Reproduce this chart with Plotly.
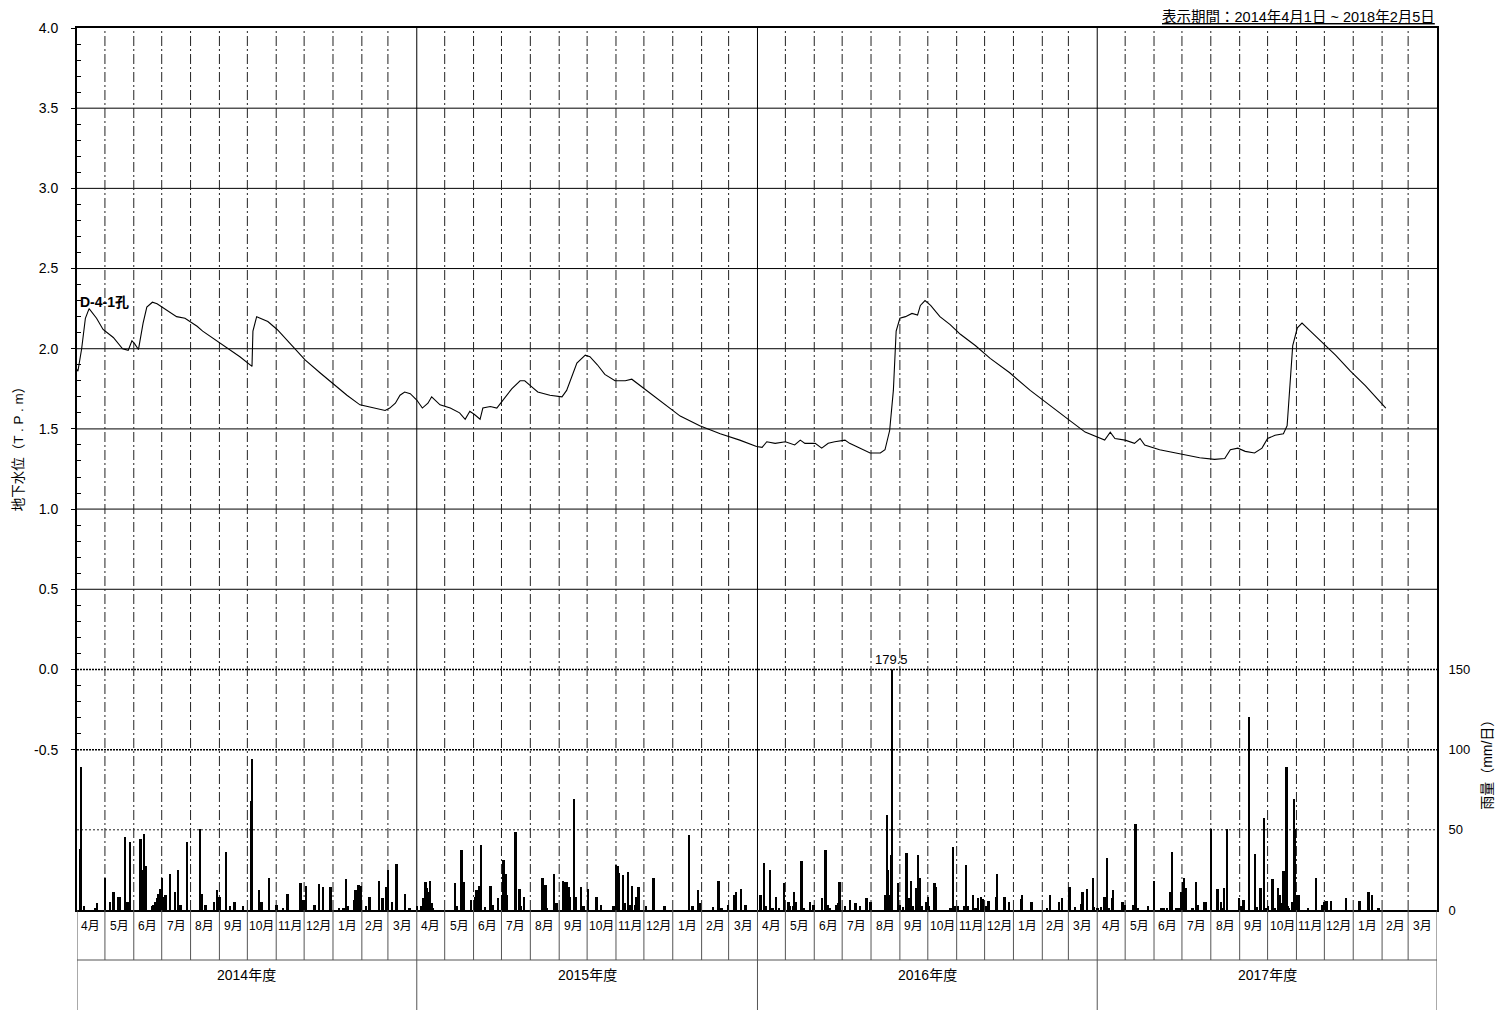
import numpy as np
import pandas as pd
import plotly.graph_objects as go

# ---------------------------------------------------------------------------
# Data
# ---------------------------------------------------------------------------
OBS_START = "2014-04-01"
FISCAL_YEARS = [2014, 2015, 2016, 2017]
FY_LABELS = ["2014年度", "2015年度", "2016年度", "2017年度"]
MONTH_LABELS = ["4月", "5月", "6月", "7月", "8月", "9月", "10月", "11月", "12月", "1月", "2月", "3月"]
WELL_NAME = "D-4-1孔"
PERIOD_TEXT = "表示期間：2014年4月1日 ~ 2018年2月5日"
LEFT_TITLE = "地下水位（T . P . m）"
RIGHT_TITLE = "雨量（mm/日）"

# groundwater level (T.P.m), day = elapsed days since 2014-04-01
level_day = [0, 1, 5, 9, 13, 21, 28, 39, 49, 55, 59, 62, 66, 71, 75, 81, 86, 91, 97, 102,
             107, 116, 121, 129, 135, 150, 161, 175, 188, 189, 193, 197, 205, 215, 229, 245,
             261, 275, 290, 304, 320, 331, 336, 342, 347, 352, 358, 365, 371, 377, 381, 390,
             401, 411, 417, 422, 427, 433, 436, 444, 451, 460, 467, 476, 481, 487, 495, 508,
             521, 526, 532, 537, 546, 551, 559, 567, 578, 589, 596, 605, 616, 632, 648, 669,
             691, 712, 730, 736, 741, 750, 761, 771, 777, 782, 793, 800, 807, 814, 825, 830,
             841, 852, 863, 868, 873, 877, 880, 884, 890, 897, 903, 906, 911, 917, 927, 938,
             949, 965, 981, 1002, 1024, 1045, 1067, 1083, 1096, 1104, 1110, 1115, 1126, 1136,
             1142, 1147, 1163, 1179, 1196, 1206, 1222, 1233, 1239, 1247, 1255, 1265, 1273,
             1279, 1287, 1296, 1300, 1303, 1306, 1311, 1316, 1325, 1336, 1352, 1368, 1384, 1406]
level_m = [1.87, 1.86, 2.00, 2.19, 2.25, 2.19, 2.12, 2.07, 2.00, 1.99, 2.05, 2.03, 1.995, 2.16,
           2.26, 2.29, 2.28, 2.26, 2.24, 2.22, 2.20, 2.19, 2.17, 2.14, 2.11, 2.05, 2.01, 1.95,
           1.89, 2.11, 2.20, 2.19, 2.17, 2.12, 2.03, 1.93, 1.85, 1.78, 1.71, 1.65, 1.63, 1.615,
           1.63, 1.66, 1.71, 1.73, 1.72, 1.68, 1.63, 1.66, 1.70, 1.65, 1.63, 1.60, 1.56, 1.61,
           1.59, 1.56, 1.63, 1.64, 1.63, 1.70, 1.75, 1.80, 1.80, 1.77, 1.73, 1.71, 1.70, 1.74,
           1.83, 1.91, 1.96, 1.95, 1.90, 1.84, 1.80, 1.80, 1.81, 1.77, 1.72, 1.65, 1.58, 1.52,
           1.47, 1.43, 1.39, 1.385, 1.42, 1.41, 1.42, 1.40, 1.43, 1.41, 1.41, 1.38, 1.41, 1.42,
           1.43, 1.41, 1.38, 1.35, 1.35, 1.37, 1.49, 1.74, 2.11, 2.19, 2.20, 2.22, 2.21, 2.27,
           2.30, 2.27, 2.20, 2.15, 2.09, 2.02, 1.94, 1.85, 1.74, 1.65, 1.55, 1.48, 1.45, 1.43,
           1.48, 1.44, 1.43, 1.41, 1.44, 1.40, 1.37, 1.35, 1.33, 1.32, 1.31, 1.315, 1.37, 1.38,
           1.36, 1.35, 1.38, 1.44, 1.46, 1.47, 1.52, 1.80, 2.02, 2.13, 2.16, 2.11, 2.05, 1.96,
           1.86, 1.77, 1.63]

# daily rainfall (mm/day), day = days since 1 April of each fiscal year
rain_fy2014_day = [3, 4, 7, 19, 21, 30, 35, 39, 44, 46, 51, 54, 57, 68, 69, 71, 72, 74, 80, 82,
                   84, 86, 87, 89, 91, 93, 95, 100, 105, 108, 111, 118, 132, 134, 138, 147, 150,
                   153, 160, 164, 169, 178, 187, 188, 195, 198, 206, 214, 221, 226, 240, 243,
                   246, 255, 260, 264, 272, 281, 286, 289, 291, 297, 299, 302, 305, 310, 314,
                   324, 328, 332, 334, 338, 343, 352, 357]
rain_fy2014_mm = [37.5, 89, 2, 1, 4, 20, 5, 11, 8, 8, 45, 5, 42, 44, 25, 6, 47, 27, 2, 3,
                  5, 7, 10, 13, 20, 8, 9, 22, 11, 25, 3, 42, 50, 10, 3, 5, 12,
                  8, 36, 2, 5, 2.5, 68, 94, 12.5, 4.6, 20, 3, 0.5, 9.6, 16.7, 6,
                  14.6, 3, 16, 14, 14, 1, 1, 19, 2, 6, 12.5, 15.6, 14.6, 2.5, 8,
                  18, 7, 14, 25, 5, 28.5, 10, 1]

rain_fy2015_day = [0, 4, 7, 9, 11, 12, 14, 16, 17, 41, 43, 48, 50, 58, 62, 64, 67, 69, 73, 79,
                   81, 87, 92, 93, 95, 97, 106, 110, 112, 115, 135, 138, 140, 147, 150, 157,
                   159, 161, 163, 164, 169, 171, 176, 179, 184, 193, 198, 211, 214, 216, 217,
                   221, 223, 227, 229, 231, 234, 236, 238, 246, 254, 266, 292, 296, 302, 304,
                   318, 324, 327, 334, 341, 343, 348, 353]
rain_fy2015_mm = [2, 2, 7, 17, 13.5, 11, 18, 4, 1, 16.7, 2, 37, 17, 6, 8, 12.5, 15, 40, 1.7, 15,
                  3, 7, 9, 31, 22, 9, 48.5, 13, 2.5, 8, 20, 15.6, 1, 22, 4, 18,
                  17, 17, 14, 8, 69, 8, 14, 2, 13, 8, 3, 2.5, 28, 27, 23,
                  21.7, 4, 23.5, 3, 15, 3, 8, 14, 2, 20, 2, 46.7, 2, 12.5, 4,
                  1.5, 18, 0.5, 3, 9.4, 11, 13, 3]

rain_fy2016_day = [3, 7, 9, 13, 16, 20, 23, 28, 33, 35, 38, 39, 41, 47, 50, 56, 60, 69, 73, 75,
                   78, 84, 86, 88, 94, 99, 105, 110, 117, 121, 137, 139, 140, 141, 143, 144,
                   151, 153, 156, 160, 162, 165, 167, 170, 172, 174, 176, 181, 183, 184, 190,
                   191, 207, 210, 212, 215, 222, 224, 226, 231, 234, 237, 240, 242, 245, 248,
                   256, 257, 265, 270, 283, 284, 294, 311, 314, 324, 327, 335, 341, 348, 349,
                   354, 360, 361]
rain_fy2016_mm = [9, 29, 2.5, 25, 1, 8, 1, 16.7, 5, 2, 2, 11, 5, 30, 1, 5, 3, 7.5, 37, 3,
                  1, 3, 4, 17, 2, 6, 4, 2, 7.5, 5, 9.4, 59, 25, 9.4, 34, 179.5,
                  16.7, 3, 1.7, 35, 7.5, 18, 2, 13.5, 34, 20, 2.5, 5, 7.7, 2, 16.7,
                  14, 0.5, 39, 2, 2, 2, 28, 2, 9, 1, 7.5, 8, 6.7, 2.5, 5.6,
                  7.7, 22, 8, 5, 6.7, 9, 5, 1, 9.4, 5, 7.5, 13.8, 1.7, 3.3, 11,
                  13, 20, 1.7]

rain_fy2017_day = [0, 4, 7, 8, 10, 12, 16, 17, 27, 29, 38, 41, 43, 54, 61, 68, 71, 75, 78, 80,
                   85, 87, 90, 92, 93, 95, 102, 106, 108, 115, 116, 122, 129, 133, 135, 136,
                   139, 152, 154, 157, 163, 169, 171, 175, 176, 179, 181, 183, 188, 191, 194,
                   196, 197, 200, 201, 203, 205, 206, 209, 211, 212, 214, 216, 226, 235, 241,
                   244, 246, 251, 267, 281, 282, 291, 295, 302]
rain_fy2017_mm = [0.4, 1.7, 8, 8, 32, 0.5, 7.3, 12, 4.8, 3, 3, 53.5, 0.5, 2, 18, 0.5, 0.5, 0.5,
                  11, 36, 0.8, 0.8, 11, 17, 20, 13.5, 0.5, 17, 3, 5, 4.6, 50, 13, 5, 1, 13.5,
                  50.4, 7, 2, 5.8, 120, 34.6, 1.7, 13.5, 0.5, 57, 1, 2, 19, 1, 13.3,
                  9.4, 4, 24, 11, 89, 2, 1, 4.8, 69, 50, 9, 8.8, 0.4, 20, 3,
                  4.6, 5.2, 5.6, 7, 5.6, 5.2, 11, 8.8, 0.5]

PEAK_RAIN_LABEL = "179.5"

# ---------------------------------------------------------------------------
# Build series
# ---------------------------------------------------------------------------
start = pd.Timestamp(OBS_START)
level_dates = start + pd.to_timedelta(level_day, unit="D")

rain_tables = [
    (rain_fy2014_day, rain_fy2014_mm),
    (rain_fy2015_day, rain_fy2015_mm),
    (rain_fy2016_day, rain_fy2016_mm),
    (rain_fy2017_day, rain_fy2017_mm),
]
rain_dates, rain_vals = [], []
for fy, (days, mm) in zip(FISCAL_YEARS, rain_tables):
    fy_start = pd.Timestamp(f"{fy}-04-01")
    rain_dates.extend(fy_start + pd.to_timedelta(days, unit="D") + pd.Timedelta(hours=12))
    rain_vals.extend(mm)

x_start = pd.Timestamp(f"{FISCAL_YEARS[0]}-04-01")
x_end = pd.Timestamp(f"{FISCAL_YEARS[-1] + 1}-04-01")
month_starts = pd.date_range(x_start, x_end, freq="MS")
fy_starts = [pd.Timestamp(f"{fy}-04-01") for fy in FISCAL_YEARS] + [x_end]

FONT = "Liberation Sans, Arial, Noto Sans CJK JP, sans-serif"

# plot area geometry (px)
PLOT_H = 882
LEFT_RANGE = [-1.5, 4.0]
RAIN_TOP = 150
rain_domain_top = (RAIN_TOP / 100 * 160.4) / PLOT_H
row1 = -50 / PLOT_H
row2 = -100 / PLOT_H

fig = go.Figure()

fig.add_trace(go.Bar(
    x=rain_dates, y=rain_vals, xaxis="x", yaxis="y2",
    width=86400000 * 2.0,
    marker=dict(color="black", line=dict(width=0)),
    showlegend=False, hoverinfo="x+y",
))

fig.add_trace(go.Scatter(
    x=level_dates, y=level_m, xaxis="x", yaxis="y",
    mode="lines", line=dict(color="black", width=1.1),
    showlegend=False,
))

shapes = []
# horizontal grid: solid for water-level band, dotted where it meets the rain band
for v in np.arange(0.5, 4.0, 0.5):
    shapes.append(dict(type="line", xref="paper", yref="y", x0=0, x1=1, y0=v, y1=v,
                       line=dict(color="black", width=1), layer="below"))
for v in (0.0, -0.5):
    shapes.append(dict(type="line", xref="paper", yref="y", x0=0, x1=1, y0=v, y1=v,
                       line=dict(color="black", width=1.5, dash="2px,1px"), layer="below"))
shapes.append(dict(type="line", xref="paper", yref="y2", x0=0, x1=1, y0=50, y1=50,
                   line=dict(color="#222", width=1, dash="2px,2px"), layer="below"))

# month grid (dash-dot) and fiscal year separators (solid)
fy_set = set(fy_starts)
for d in month_starts[1:-1]:
    if d in fy_set:
        shapes.append(dict(type="line", xref="x", yref="paper", x0=d, x1=d, y0=0, y1=1,
                           line=dict(color="black", width=1), layer="below"))
    else:
        shapes.append(dict(type="line", xref="x", yref="paper", x0=d, x1=d, y0=0, y1=1,
                           line=dict(color="#222", width=1, dash="10px,3px,2px,3px"),
                           layer="below"))

# month / fiscal-year table under the plot
for d in month_starts:
    bottom = row2 if d in fy_set else row1
    shapes.append(dict(type="line", xref="x", yref="paper", x0=d, x1=d, y0=0, y1=bottom,
                       line=dict(color="#555", width=1)))
shapes.append(dict(type="line", xref="x", yref="paper", x0=x_start, x1=x_end, y0=row1, y1=row1,
                   line=dict(color="#555", width=1)))

annotations = []
for i, d in enumerate(month_starts[:-1]):
    mid = d + (month_starts[i + 1] - d) / 2
    annotations.append(dict(x=mid, y=row1 / 2, xref="x", yref="paper", text=MONTH_LABELS[i % 12],
                            showarrow=False, font=dict(size=12, color="black", family=FONT)))
for i, lab in enumerate(FY_LABELS):
    mid = fy_starts[i] + (fy_starts[i + 1] - fy_starts[i]) / 2
    annotations.append(dict(x=mid, y=(row1 + row2) / 2, xref="x", yref="paper", text=lab,
                            showarrow=False, font=dict(size=14, color="black", family=FONT)))

# titles and labels
annotations.append(dict(x=1, y=1, xref="paper", yref="paper", xanchor="right", yanchor="bottom",
                        yshift=1, text=f"<u>{PERIOD_TEXT}</u>", showarrow=False,
                        font=dict(size=14.5, color="black", family=FONT)))
annotations.append(dict(x=-0.0434, y=0.527, xref="paper", yref="paper", textangle=-90,
                        xanchor="center", yanchor="middle",
                        text=LEFT_TITLE, showarrow=False,
                        font=dict(size=13.5, color="black", family=FONT)))
annotations.append(dict(x=1.0368, y=0.168, xref="paper", yref="paper", textangle=-90,
                        xanchor="center", yanchor="middle",
                        text=RIGHT_TITLE, showarrow=False,
                        font=dict(size=14, color="black", family=FONT)))
annotations.append(dict(x=level_dates[0], y=level_m[0], xref="x", yref="y", xanchor="left",
                        yanchor="middle", xshift=1, yshift=68, text=f"<b>{WELL_NAME}</b>",
                        showarrow=False, font=dict(size=14, color="black", family=FONT)))
peak_i = int(np.argmax(rain_vals))
annotations.append(dict(x=rain_dates[peak_i], y=RAIN_TOP, xref="x", yref="y2", yanchor="bottom",
                        text=PEAK_RAIN_LABEL, showarrow=False, yshift=0,
                        font=dict(size=13, color="black", family=FONT)))

major = np.round(np.arange(-0.5, 4.01, 0.5), 1)
minor = [round(v, 1) for v in np.arange(-0.4, 4.0, 0.1) if abs(v * 2 - round(v * 2)) > 1e-6]

fig.update_layout(
    width=1501, height=1011,
    margin=dict(l=77, r=64, t=28, b=101),
    paper_bgcolor="white", plot_bgcolor="rgba(0,0,0,0)",
    font=dict(family=FONT, color="black"),
    bargap=0,
    xaxis=dict(type="date", range=[x_start, x_end], showticklabels=False, showgrid=False,
               zeroline=False, showline=True, mirror=True, linecolor="black", linewidth=1.5,
               ticks="", anchor="y"),
    yaxis=dict(range=LEFT_RANGE, tickmode="array", tickvals=list(major),
               ticktext=[f"{v:.1f}" for v in major], ticks="outside", ticklen=4,
               tickcolor="black", ticklabelstandoff=10, showgrid=False, zeroline=False,
               showline=True, mirror=True, linecolor="black", linewidth=2,
               tickfont=dict(size=14, family=FONT),
               minor=dict(tickmode="array", tickvals=minor, ticks="inside", ticklen=4,
                          tickcolor="black", showgrid=False)),
    yaxis2=dict(domain=[0, rain_domain_top], anchor="x", side="right", range=[0, RAIN_TOP],
                tickmode="array", tickvals=[0, 50, 100, 150], ticks="outside", ticklen=8,
                tickcolor="rgba(0,0,0,0)", showgrid=False, zeroline=False, showline=False,
                tickfont=dict(size=13, family=FONT)),
    shapes=shapes,
    annotations=annotations,
)

fig.write_html("out.html")
